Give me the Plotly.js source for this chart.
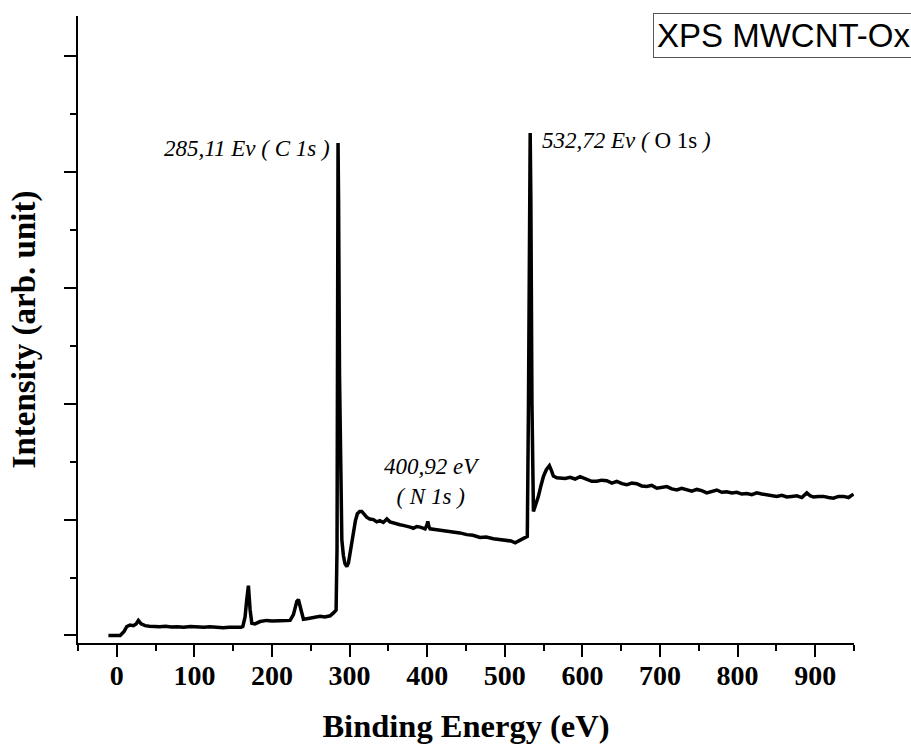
<!DOCTYPE html>
<html>
<head>
<meta charset="utf-8">
<script src="https://cdn.plot.ly/plotly-3.0.1.min.js"></script>
<style>html,body{margin:0;padding:0;background:#fff;}#chart{width:911px;height:744px;}</style>
</head>
<body>
<div id="chart"></div>
<script>
// Binding energy (eV)
var energy = [
  -10.8, -5, 0, 4.3, 9.4, 12.9, 17, 21.4, 24.9, 27.8, 31.3, 36.5, 42, 47, 55, 63, 70, 78, 86, 95,
  103, 112, 120, 128, 137, 145, 154.6, 160, 162.4, 165.3, 167.5, 169.6, 171.8, 174, 178, 184.7, 193.3, 200, 210.4, 217,
  223.3, 227.6, 230, 232, 234, 237, 240.5, 245, 249, 255, 262, 268, 274.9, 279.2, 282.6, 283.8, 284.6, 285.1, 285.8, 287,
  288.5, 290, 292, 294, 296.4, 298.5, 300.6, 303, 305, 307.5, 310, 313, 315.7, 319, 322, 326, 330.7, 335, 339, 343.5,
  348, 352, 356.4, 361, 365, 369, 373.7, 378, 382.2, 386.5, 390.9, 394, 397.3, 399.5, 400.8, 402.2, 403.7, 410, 416.6, 425,
  433.8, 442, 451, 459, 468, 476, 485.3, 494, 502.6, 508, 513.3, 518, 524, 529, 530.5, 531.8, 532.7, 533.6, 535, 536.9,
  540, 543.3, 546.5, 549.7, 553.5, 557.5, 560, 562.6, 567, 571.3, 577.7, 584.2, 590.6, 597, 605.7, 612, 618.6, 625, 631.4, 638,
  644.3, 651, 657.2, 663.6, 670, 676.5, 683, 689.5, 695.9, 702.4, 708.8, 715.2, 721.6, 728, 734.5, 741, 747.4, 753.8, 760.3, 766.7,
  773.2, 779.6, 786, 792.5, 799, 805.4, 811.9, 818.3, 824.7, 831.2, 837.6, 844, 850.5, 857, 863.4, 869.8, 876.3, 882.7, 889.2, 893.5,
  897.7, 904, 910.6, 917, 923.5, 930, 936.4, 943, 949.3
];
// Intensity (arb. unit)
var intensity = [
  0, 0, 0, 0, 0.07, 0.155, 0.18, 0.17, 0.2, 0.26, 0.2, 0.17, 0.16, 0.155, 0.15, 0.16, 0.145, 0.15, 0.14, 0.155,
  0.145, 0.14, 0.15, 0.14, 0.135, 0.14, 0.135, 0.14, 0.155, 0.32, 0.62, 0.86, 0.44, 0.21, 0.2, 0.24, 0.26, 0.25, 0.255, 0.25,
  0.26, 0.36, 0.5, 0.59, 0.62, 0.44, 0.28, 0.29, 0.3, 0.31, 0.33, 0.32, 0.34, 0.39, 0.44, 1.5, 6.5, 8.5, 7.5, 4.5,
  2.6, 1.65, 1.38, 1.24, 1.19, 1.25, 1.42, 1.65, 1.82, 1.98, 2.1, 2.14, 2.14, 2.08, 2.04, 2.01, 2.0, 1.96, 1.98, 1.95,
  2.01, 1.96, 1.94, 1.92, 1.91, 1.9, 1.89, 1.87, 1.85, 1.88, 1.87, 1.85, 1.84, 1.9, 1.97, 1.88, 1.84, 1.83, 1.82, 1.8,
  1.78, 1.77, 1.74, 1.73, 1.69, 1.7, 1.67, 1.66, 1.64, 1.63, 1.6, 1.63, 1.68, 1.71, 4.0, 7.8, 8.67, 7.5, 4.0, 2.14,
  2.25, 2.4, 2.58, 2.74, 2.86, 2.93, 2.85, 2.75, 2.72, 2.72, 2.71, 2.73, 2.7, 2.74, 2.69, 2.66, 2.66, 2.68, 2.67, 2.63,
  2.66, 2.62, 2.6, 2.63, 2.62, 2.58, 2.57, 2.59, 2.54, 2.56, 2.57, 2.53, 2.51, 2.54, 2.51, 2.49, 2.52, 2.5, 2.46, 2.49,
  2.51, 2.47, 2.48, 2.46, 2.47, 2.44, 2.45, 2.43, 2.46, 2.44, 2.43, 2.41, 2.4, 2.42, 2.39, 2.4, 2.41, 2.38, 2.46, 2.41,
  2.39, 2.4, 2.4, 2.38, 2.37, 2.4, 2.4, 2.38, 2.44
];
var xTickVals = [0, 100, 200, 300, 400, 500, 600, 700, 800, 900];
var xTickText = ['0', '100', '200', '300', '400', '500', '600', '700', '800', '900'];
var yTickVals = [0, 2, 4, 6, 8, 10];

var peakLabels = ['<i>285,11 Ev ( C 1s )</i>', '<i>532,72 Ev (</i> O 1s <i>)</i>', '<i>400,92 eV<br>( N 1s )</i>'];
var peakLabelX = [277.4, 545.5, 406.3];
var peakLabelY = [8.41, 8.55, 2.65];
var peakAnchor = ['right', 'left', 'center'];

var serif = 'Liberation Serif, Times New Roman, serif';

var trace = {
  x: energy, y: intensity, type: 'scatter', mode: 'lines',
  line: {color: '#000', width: 3.5}, hoverinfo: 'x+y'
};

var annotations = peakLabels.map(function (t, i) {
  return {
    text: t, x: peakLabelX[i], y: peakLabelY[i], xref: 'x', yref: 'y',
    xanchor: peakAnchor[i], yanchor: 'middle', showarrow: false,
    font: {family: serif, size: 23, color: '#000'}
  };
});
annotations.push({
  text: 'XPS MWCNT-Ox', xref: 'paper', yref: 'paper', x: 0.741, y: 1.005,
  xanchor: 'left', yanchor: 'top', showarrow: false, width: 262, align: 'left',
  font: {family: 'Liberation Sans, Arial, sans-serif', size: 33, color: '#000'},
  bordercolor: '#555', borderwidth: 1, borderpad: 3, bgcolor: '#fff'
});

var layout = {
  width: 911, height: 744,
  margin: {l: 78, r: 57, t: 16, b: 101, pad: 0},
  paper_bgcolor: '#fff', plot_bgcolor: '#fff',
  showlegend: false,
  xaxis: {
    range: [-50, 950], tickmode: 'array', tickvals: xTickVals, ticktext: xTickText,
    ticks: 'outside', ticklen: 12, tickwidth: 2, tickcolor: '#000', ticklabelstandoff: -6,
    minor: {dtick: 50, tick0: 0, ticks: 'outside', ticklen: 6, tickwidth: 2, tickcolor: '#000'},
    showline: true, linewidth: 2, linecolor: '#000', showgrid: false, zeroline: false,
    tickfont: {family: serif, size: 28, color: '#000', weight: 'bold'},
    title: {text: 'Binding Energy (eV)', standoff: 27,
      font: {family: serif, size: 32.5, color: '#000', weight: 'bold'}}
  },
  yaxis: {
    range: [-0.13, 10.69], tickmode: 'array', tickvals: yTickVals, showticklabels: false,
    ticks: 'outside', ticklen: 12, tickwidth: 2, tickcolor: '#000',
    minor: {dtick: 1, tick0: 0, ticks: 'outside', ticklen: 6, tickwidth: 2, tickcolor: '#000'},
    showline: true, linewidth: 2, linecolor: '#000', showgrid: false, zeroline: false,
    title: {text: 'Intensity (arb. unit)', standoff: 18,
      font: {family: serif, size: 33, color: '#000', weight: 'bold'}}
  },
  annotations: annotations
};

Plotly.newPlot('chart', [trace], layout, {displayModeBar: false, staticPlot: true});
</script>
</body>
</html>
